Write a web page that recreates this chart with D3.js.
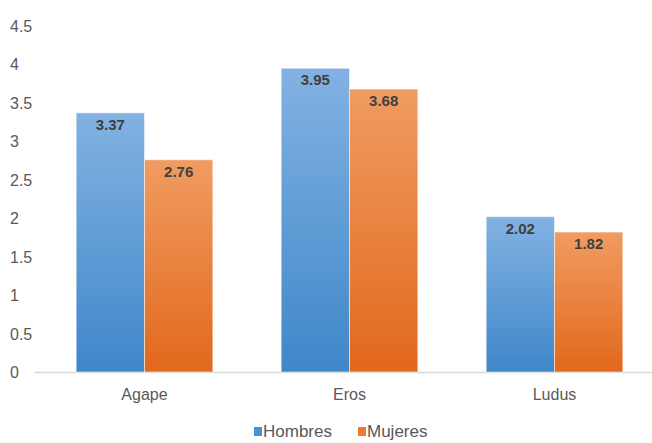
<!DOCTYPE html>
<html>
<head>
<meta charset="utf-8">
<script src="https://cdn.jsdelivr.net/npm/d3@7"></script>
<style>
  body { margin: 0; background: #fff; }
  text { font-family: "Liberation Sans Narrow", "Liberation Sans", Arial, sans-serif; }
</style>
</head>
<body>
<script>
// chart data
var categories = ['Agape', 'Eros', 'Ludus'];
var seriesNames = ['Hombres', 'Mujeres'];
var hombres = [3.37, 3.95, 2.02];
var mujeres = [2.76, 3.68, 1.82];
var yTicks = [0, 0.5, 1, 1.5, 2, 2.5, 3, 3.5, 4, 4.5];

var width = 652, height = 443;

var svg = d3.select('body').append('svg')
    .attr('width', width)
    .attr('height', height);

var defs = svg.append('defs');
function grad(id, top, bottom) {
    var g = defs.append('linearGradient')
        .attr('id', id)
        .attr('x1', 0).attr('y1', 0).attr('x2', 0).attr('y2', 1);
    g.append('stop').attr('offset', '0%').attr('stop-color', top);
    g.append('stop').attr('offset', '100%').attr('stop-color', bottom);
}
grad('gBlue', '#82b2e2', '#3f87c9');
grad('gOrange', '#f09c62', '#e2681c');
var fills = ['url(#gBlue)', 'url(#gOrange)'];
var legendColors = ['#4a8fd0', '#ed7a2e'];

var y = d3.scaleLinear()
    .domain([0, 4.5])
    .range([372, 26]);

var x = d3.scaleBand()
    .domain(categories)
    .range([42, 657])
    .paddingInner(0)
    .paddingOuter(0);

var inner = d3.scaleBand()
    .domain(seriesNames)
    .range([0, x.bandwidth()])
    .paddingOuter(0.5);

// y tick labels (no gridlines)
svg.append('g').selectAll('text')
    .data(yTicks)
    .enter().append('text')
    .attr('x', 10)
    .attr('y', function (d) { return y(d) + 6; })
    .attr('font-size', 16)
    .attr('fill', '#595959')
    .text(function (d) { return d; });

// baseline
svg.append('line')
    .attr('x1', 34).attr('x2', width)
    .attr('y1', y(0) + 0.5).attr('y2', y(0) + 0.5)
    .attr('stroke', '#d9d9d9')
    .attr('stroke-width', 1.5);

var rows = categories.map(function (c, i) {
    return { cat: c, values: [hombres[i], mujeres[i]] };
});

var groups = svg.append('g').selectAll('g')
    .data(rows)
    .enter().append('g')
    .attr('transform', function (d) { return 'translate(' + x(d.cat) + ',0)'; });

var bars = groups.selectAll('g')
    .data(function (d) {
        return d.values.map(function (v, j) { return { name: seriesNames[j], value: v, j: j }; });
    })
    .enter().append('g');

bars.append('rect')
    .attr('x', function (d) { return inner(d.name); })
    .attr('y', function (d) { return y(d.value); })
    .attr('width', inner.bandwidth())
    .attr('height', function (d) { return y(0) - y(d.value); })
    .attr('fill', function (d) { return fills[d.j]; })
    .attr('stroke', 'rgba(255,255,255,0.5)')
    .attr('stroke-width', 1);

bars.append('text')
    .attr('x', function (d) { return inner(d.name) + inner.bandwidth() / 2; })
    .attr('y', function (d) { return y(d.value) + 17; })
    .attr('text-anchor', 'middle')
    .attr('font-size', 15)
    .attr('font-weight', 'bold')
    .attr('fill', '#404040')
    .text(function (d) { return d.value.toFixed(2); });

// category labels
svg.append('g').selectAll('text')
    .data(categories)
    .enter().append('text')
    .attr('x', function (d) { return x(d) + x.bandwidth() / 2; })
    .attr('y', 400)
    .attr('text-anchor', 'middle')
    .attr('font-size', 16)
    .attr('fill', '#595959')
    .text(function (d) { return d; });

// legend
var legendX = [254, 358];
var legend = svg.append('g').selectAll('g')
    .data(seriesNames)
    .enter().append('g')
    .attr('transform', function (d, i) { return 'translate(' + legendX[i] + ',0)'; });

legend.append('rect')
    .attr('x', 0).attr('y', 427)
    .attr('width', 8).attr('height', 9)
    .attr('fill', function (d, i) { return legendColors[i]; });

legend.append('text')
    .attr('x', 9)
    .attr('y', 437)
    .attr('font-size', 17)
    .attr('fill', '#595959')
    .text(function (d) { return d; });
</script>
</body>
</html>
